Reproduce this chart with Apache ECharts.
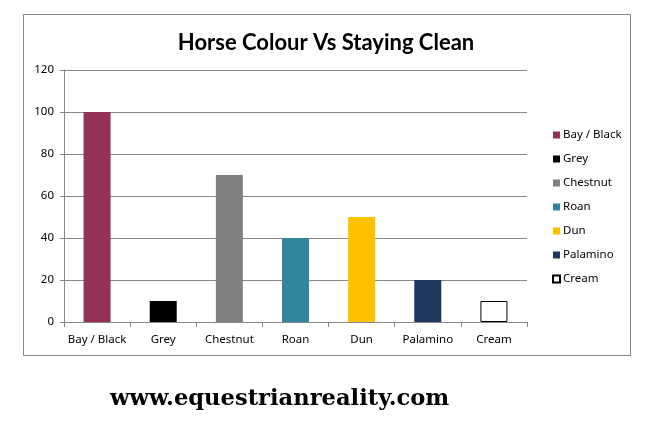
<!DOCTYPE html>
<html>
<head>
<meta charset="utf-8">
<script src="https://cdn.jsdelivr.net/npm/echarts@6/dist/echarts.min.js"></script>
<style>
html,body{margin:0;padding:0;background:#fff;}
#c{width:645px;height:437px;}
</style>
</head>
<body>
<div id="c"></div>
<script>
var categories = ['Bay / Black', 'Grey', 'Chestnut', 'Roan', 'Dun', 'Palamino', 'Cream'];
var values = [100, 10, 70, 40, 50, 20, 10];
var colors = ['#953159', '#000000', '#808080', '#31859C', '#FFC000', '#1B375E', '#FFFFFF'];
var yTicks = { min: 0, max: 120, interval: 20 };

var chart = echarts.init(document.getElementById('c'), null, { renderer: 'canvas' });
var font = 'Noto Sans, DejaVu Sans, sans-serif';

var series = categories.map(function (name, i) {
  return {
    name: name,
    type: 'bar',
    stack: 'all',
    barWidth: 27,
    itemStyle: {
      color: colors[i],
      borderColor: colors[i] === '#FFFFFF' ? '#000000' : colors[i],
      borderWidth: colors[i] === '#FFFFFF' ? 1 : 0
    },
    emphasis: { disabled: true },
    data: categories.map(function (_, j) { return j === i ? values[i] : '-'; })
  };
});

chart.setOption({
  animation: false,
  backgroundColor: '#ffffff',
  title: {
    text: 'Horse Colour Vs Staying Clean',
    left: 321,
    textAlign: 'center',
    top: 27,
    textStyle: { fontFamily: 'Lato, Open Sans, sans-serif', fontWeight: 'bold', fontSize: 22, color: '#000' }
  },
  legend: {
    orient: 'vertical',
    left: 547,
    top: 124,
    itemWidth: 7,
    itemHeight: 7,
    itemGap: 12,
    icon: 'rect',
    textStyle: { fontFamily: font, fontSize: 11.5, color: '#000', padding: [0, 0, 0, -2] },
    data: categories
  },
  grid: { left: 64, right: 118, top: 70, bottom: 115, containLabel: false },
  xAxis: {
    type: 'category',
    data: categories,
    axisLine: { lineStyle: { color: '#868686' } },
    axisTick: { show: true, interval: 0, alignWithLabel: false, length: 5, lineStyle: { color: '#868686' } },
    axisLabel: { interval: 0, fontFamily: font, fontSize: 11.5, color: '#000', margin: 12 }
  },
  yAxis: {
    type: 'value',
    min: yTicks.min,
    max: yTicks.max,
    interval: yTicks.interval,
    axisLine: { show: true, lineStyle: { color: '#868686' } },
    axisTick: { show: true, length: 4, lineStyle: { color: '#868686' } },
    axisLabel: { fontFamily: font, fontSize: 11.5, color: '#000', margin: 10 },
    splitLine: { lineStyle: { color: '#868686' } }
  },
  graphic: [
    {
      type: 'rect',
      shape: { x: 23.5, y: 14.5, width: 607, height: 341 },
      style: { fill: null, stroke: '#868686', lineWidth: 1 },
      z: -1
    },
    {
      type: 'text',
      left: 110,
      top: 388,
      style: {
        text: 'www.equestrianreality.com',
        font: 'bold 22.6px "DejaVu Serif", serif',
        fill: '#000'
      }
    }
  ],
  series: series
});
</script>
</body>
</html>
